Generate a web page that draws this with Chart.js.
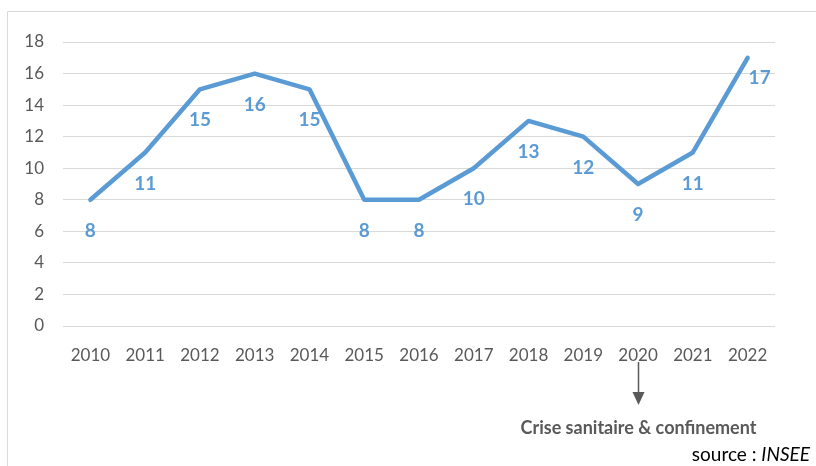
<!DOCTYPE html>
<html>
<head>
<meta charset="utf-8">
<script src="https://cdn.jsdelivr.net/npm/chart.js@4"></script>
<style>
  html, body { margin: 0; padding: 0; background: #fff; }
  #wrap { width: 816px; height: 466px; position: relative; }
</style>
</head>
<body>
<div id="wrap"><canvas id="chart" width="816" height="466"></canvas></div>
<script>
"use strict";

const years = ["2010", "2011", "2012", "2013", "2014", "2015", "2016", "2017", "2018", "2019", "2020", "2021", "2022"];
const values = [8, 11, 15, 16, 15, 8, 8, 10, 13, 12, 9, 11, 17];
const yTicks = [0, 2, 4, 6, 8, 10, 12, 14, 16, 18];
const noteYear = "2020";
const noteText = "Crise sanitaire & confinement";

const lineColor = "#5B9BD5";
const textGrey = "#595959";
const fontFam = "Lato, 'Open Sans', sans-serif";

// labels under each point, the last one to its right
const labelPlugin = {
    id: "pointLabels",
    afterDatasetsDraw(chart) {
        const ctx = chart.ctx;
        const meta = chart.getDatasetMeta(0);
        ctx.save();
        ctx.font = "bold 19px " + fontFam;
        ctx.fillStyle = lineColor;
        ctx.textBaseline = "middle";
        meta.data.forEach((pt, i) => {
            if (i === meta.data.length - 1) {
                ctx.textAlign = "left";
                ctx.fillText(values[i], pt.x + 1, pt.y + 20);
            } else {
                ctx.textAlign = "center";
                ctx.fillText(values[i], pt.x, pt.y + 31);
            }
        });
        ctx.restore();
    }
};

// frame, arrow, note and source
const notePlugin = {
    id: "notes",
    afterDraw(chart) {
        const ctx = chart.ctx;
        const xs = chart.scales.x;
        const ax = Math.round(xs.getPixelForValue(years.indexOf(noteYear))) + 0.5;
        ctx.save();

        ctx.strokeStyle = "#d9d9d9";
        ctx.lineWidth = 1;
        ctx.beginPath();
        ctx.moveTo(7.5, 466);
        ctx.lineTo(7.5, 11.5);
        ctx.lineTo(816, 11.5);
        ctx.stroke();

        ctx.strokeStyle = textGrey;
        ctx.lineWidth = 1.5;
        ctx.beginPath();
        ctx.moveTo(ax, 362);
        ctx.lineTo(ax, 393);
        ctx.stroke();
        ctx.fillStyle = textGrey;
        ctx.beginPath();
        ctx.moveTo(ax - 6, 392);
        ctx.lineTo(ax + 6, 392);
        ctx.lineTo(ax, 405);
        ctx.closePath();
        ctx.fill();

        ctx.textAlign = "center";
        ctx.textBaseline = "middle";
        ctx.font = "bold 18px " + fontFam;
        ctx.fillText(noteText, ax, 428);

        ctx.fillStyle = "#000";
        ctx.textAlign = "left";
        ctx.font = "19px " + fontFam;
        const s1 = "source : ";
        const w1 = ctx.measureText(s1).width;
        ctx.font = "italic 19px " + fontFam;
        const w2 = ctx.measureText("INSEE").width;
        const sx = 810 - w1 - w2;
        ctx.font = "19px " + fontFam;
        ctx.fillText(s1, sx, 455);
        ctx.font = "italic 19px " + fontFam;
        ctx.fillText("INSEE", sx + w1, 455);
        ctx.restore();
    }
};

new Chart(document.getElementById("chart"), {
    type: "line",
    data: {
        labels: years,
        datasets: [{
            data: values,
            borderColor: lineColor,
            borderWidth: 4.5,
            pointRadius: 0,
            tension: 0,
            borderCapStyle: "round",
            borderJoinStyle: "round"
        }]
    },
    options: {
        responsive: false,
        animation: false,
        layout: { padding: { left: 0, top: 42, right: 41, bottom: 100 } },
        plugins: {
            legend: { display: false },
            tooltip: { enabled: false }
        },
        scales: {
            x: {
                offset: true,
                grid: { display: false },
                border: { display: false },
                ticks: {
                    color: textGrey,
                    font: { family: fontFam, size: 17 },
                    padding: 11,
                    maxRotation: 0
                },
                afterFit(scale) { scale.height = 40; }
            },
            y: {
                min: 0,
                max: 18,
                afterBuildTicks(scale) { scale.ticks = yTicks.map(v => ({ value: v })); },
                grid: { color: "#d9d9d9", lineWidth: 1, drawTicks: false },
                border: { display: false },
                ticks: {
                    color: textGrey,
                    font: { family: fontFam, size: 17 },
                    padding: 19
                },
                afterFit(scale) { scale.width = 63; }
            }
        }
    },
    plugins: [labelPlugin, notePlugin]
});
</script>
</body>
</html>
